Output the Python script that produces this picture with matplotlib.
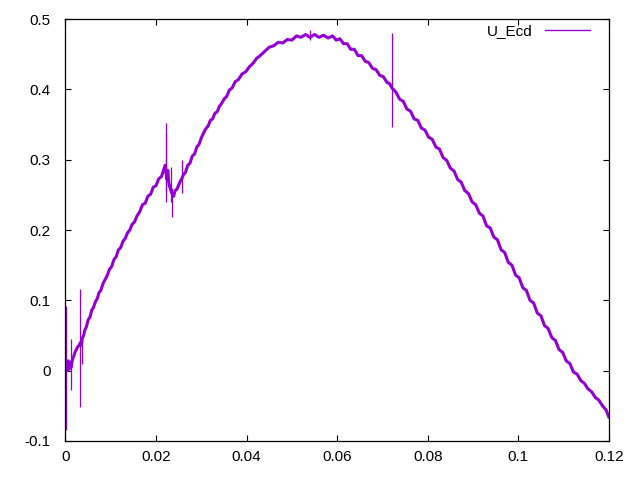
import matplotlib
matplotlib.use("Agg")
import matplotlib.pyplot as plt

plt.rcParams['font.family'] = ['Liberation Sans', 'DejaVu Sans']
plt.rcParams['font.size'] = 11

# time (s) and U_Ecd (main band)
t = [0.0000, 0.0002, 0.0004, 0.0006, 0.0008, 0.0010, 0.0012, 0.0015, 0.0018, 0.0021,
     0.0024, 0.0027, 0.0030, 0.0033, 0.0035, 0.0037, 0.0040, 0.0043, 0.0046, 0.0050,
     0.0054, 0.0058, 0.0062, 0.0066, 0.0070, 0.0074, 0.0078, 0.0083, 0.0087, 0.0092,
     0.0097, 0.0102, 0.0107, 0.0112, 0.0117, 0.0122, 0.0127, 0.0132, 0.0137, 0.0142,
     0.0147, 0.0152, 0.0158, 0.0164, 0.0170, 0.0176, 0.0182, 0.0188, 0.0194, 0.0200,
     0.0206, 0.0212, 0.0217, 0.0220, 0.0224, 0.0226, 0.0228, 0.0230, 0.0233, 0.0235,
     0.0237, 0.0239, 0.0242, 0.0246, 0.0250, 0.0254, 0.0257, 0.0260, 0.0265, 0.0270,
     0.0275, 0.0280, 0.0285, 0.0290, 0.0295, 0.0300, 0.0305, 0.0310, 0.0315, 0.0320,
     0.0325, 0.0330, 0.0335, 0.0340, 0.0345, 0.0350, 0.0356, 0.0362, 0.0368, 0.0375,
     0.0382, 0.0390, 0.0398, 0.0406, 0.0414, 0.0422, 0.0430, 0.0440, 0.0450, 0.0460,
     0.0470, 0.0480, 0.0490, 0.0500, 0.0510, 0.0520, 0.0530, 0.0540, 0.0550, 0.0560,
     0.0570, 0.0580, 0.0590, 0.0598, 0.0606, 0.0614, 0.0622, 0.0630, 0.0638, 0.0646,
     0.0654, 0.0662, 0.0670, 0.0678, 0.0686, 0.0694, 0.0702, 0.0710, 0.0716, 0.0721,
     0.0724, 0.0730, 0.0738, 0.0746, 0.0754, 0.0762, 0.0770, 0.0778, 0.0786, 0.0794,
     0.0802, 0.0810, 0.0818, 0.0826, 0.0834, 0.0842, 0.0850, 0.0858, 0.0866, 0.0874,
     0.0882, 0.0890, 0.0898, 0.0906, 0.0914, 0.0922, 0.0930, 0.0938, 0.0946, 0.0954,
     0.0962, 0.0970, 0.0978, 0.0986, 0.0994, 0.1002, 0.1010, 0.1018, 0.1026, 0.1034,
     0.1042, 0.1050, 0.1058, 0.1066, 0.1074, 0.1082, 0.1090, 0.1098, 0.1106, 0.1114,
     0.1122, 0.1130, 0.1138, 0.1146, 0.1154, 0.1162, 0.1170, 0.1178, 0.1186, 0.1194,
     0.1200]
u_ecd = [0.010, 0.012, 0.000, 0.014, 0.002, 0.012, 0.004, 0.015, 0.020, 0.026,
         0.030, 0.034, 0.036, 0.040, 0.036, 0.046, 0.050, 0.058, 0.062, 0.072,
         0.076, 0.086, 0.090, 0.098, 0.102, 0.111, 0.114, 0.124, 0.129, 0.135,
         0.144, 0.148, 0.158, 0.162, 0.172, 0.175, 0.184, 0.188, 0.196, 0.200,
         0.208, 0.211, 0.220, 0.226, 0.236, 0.238, 0.248, 0.251, 0.261, 0.263,
         0.273, 0.276, 0.286, 0.292, 0.272, 0.285, 0.268, 0.262, 0.256, 0.252,
         0.250, 0.248, 0.256, 0.258, 0.264, 0.270, 0.273, 0.278, 0.282, 0.292,
         0.295, 0.305, 0.308, 0.318, 0.322, 0.331, 0.338, 0.344, 0.348, 0.356,
         0.358, 0.366, 0.368, 0.376, 0.380, 0.386, 0.390, 0.399, 0.402, 0.411,
         0.414, 0.422, 0.425, 0.432, 0.437, 0.444, 0.448, 0.454, 0.460, 0.462,
         0.467, 0.466, 0.471, 0.470, 0.476, 0.474, 0.478, 0.474, 0.478, 0.474,
         0.477, 0.473, 0.476, 0.470, 0.472, 0.465, 0.465, 0.457, 0.457, 0.448,
         0.448, 0.440, 0.438, 0.430, 0.428, 0.420, 0.418, 0.410, 0.408, 0.402,
         0.400, 0.396, 0.386, 0.383, 0.372, 0.369, 0.358, 0.356, 0.345, 0.342,
         0.332, 0.329, 0.318, 0.315, 0.303, 0.299, 0.288, 0.284, 0.272, 0.268,
         0.256, 0.252, 0.240, 0.236, 0.224, 0.220, 0.206, 0.203, 0.190, 0.186,
         0.172, 0.168, 0.154, 0.150, 0.136, 0.132, 0.118, 0.114, 0.100, 0.096,
         0.082, 0.078, 0.064, 0.060, 0.047, 0.043, 0.030, 0.026, 0.014, 0.010,
         -0.002, -0.005, -0.014, -0.018, -0.026, -0.030, -0.038, -0.042, -0.050, -0.056,
         -0.066]

# isolated spikes: time, low, high
spike_t = [0.0002, 0.0013, 0.0031, 0.0036, 0.0221, 0.0223, 0.0232, 0.0236, 0.0258, 0.0541, 0.0722]
spike_lo = [-0.084, -0.028, -0.052, 0.010, 0.240, 0.256, 0.240, 0.218, 0.252, 0.470, 0.346]
spike_hi = [0.092, 0.045, 0.116, 0.046, 0.352, 0.336, 0.290, 0.260, 0.300, 0.484, 0.480]

xticks = [0, 0.02, 0.04, 0.06, 0.08, 0.1, 0.12]
xlabels = ['0', '0.02', '0.04', '0.06', '0.08', '0.1', '0.12']
yticks = [-0.1, 0, 0.1, 0.2, 0.3, 0.4, 0.5]
ylabels = ['-0.1', '0', '0.1', '0.2', '0.3', '0.4', '0.5']

fig = plt.figure(figsize=(6.4, 4.8), dpi=100)
ax = fig.add_axes([0.1023, 0.0813, 0.849, 0.879])

ax.plot(t, u_ecd, color='#9400D3', lw=2.2, label='U_Ecd')
ax.vlines(spike_t, spike_lo, spike_hi, color='#9400D3', lw=0.9)

ax.set_xlim(0, 0.12)
ax.set_ylim(-0.1, 0.5)
ax.set_xticks(xticks)
ax.set_xticklabels(xlabels)
ax.set_yticks(yticks)
ax.set_yticklabels(ylabels)
ax.tick_params(direction='in', length=4, width=0.8, top=True, right=True)
ax.tick_params(axis='x', pad=6.5)
ax.tick_params(axis='y', pad=10.5)
for s in ax.spines.values():
    s.set_linewidth(0.9)

leg = ax.legend(loc='upper right', bbox_to_anchor=(0.965, 0.988), frameon=False,
                markerfirst=False, handlelength=2.95, handletextpad=0.8,
                borderpad=0, borderaxespad=0)
for line in leg.get_lines():
    line.set_linewidth(1.0)

fig.savefig('out.png', dpi=100)
